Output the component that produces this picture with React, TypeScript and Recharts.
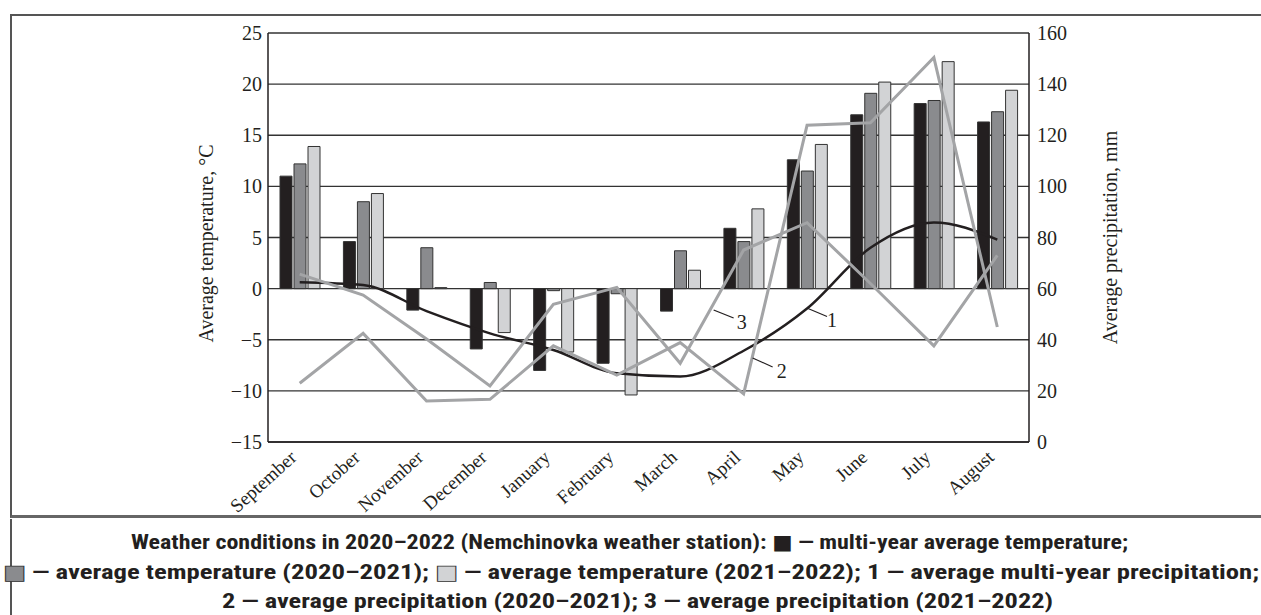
import {
  ComposedChart,
  Bar,
  Line,
  XAxis,
  YAxis,
  CartesianGrid,
  ReferenceDot,
  Label,
} from "recharts";

const MONTHS = [
  "September", "October", "November", "December", "January", "February",
  "March", "April", "May", "June", "July", "August",
];

// temperature, °C
const TEMP_MULTI_YEAR = [11.0, 4.6, -2.1, -5.9, -8.0, -7.3, -2.2, 5.9, 12.6, 17.0, 18.1, 16.3];
const TEMP_2020_21 = [12.2, 8.5, 4.0, 0.6, -0.2, -0.5, 3.7, 4.6, 11.5, 19.1, 18.4, 17.3];
const TEMP_2021_22 = [13.9, 9.3, 0.1, -4.3, -6.2, -10.4, 1.8, 7.8, 14.1, 20.2, 22.2, 19.4];

// precipitation, mm
const PRECIP_MULTI_YEAR = [62.5, 61.4, 51.2, 42.5, 36.0, 26.9, 25.6, 35.7, 52.2, 76.0, 85.9, 79.2];
const PRECIP_2020_21 = [23.0, 42.5, 16.0, 16.7, 37.6, 26.2, 38.9, 18.8, 123.9, 124.9, 150.4, 45.0];
const PRECIP_2021_22 = [65.7, 57.5, 40.3, 21.9, 53.9, 60.5, 30.8, 75.1, 85.8, 62.0, 37.6, 73.0];

const TEMP_TICKS = [-15, -10, -5, 0, 5, 10, 15, 20, 25];
const PRECIP_TICKS = [0, 20, 40, 60, 80, 100, 120, 140, 160];

const data = MONTHS.map((m, i) => ({
  month: m,
  tMulti: TEMP_MULTI_YEAR[i],
  t2021: TEMP_2020_21[i],
  t2122: TEMP_2021_22[i],
  pMulti: PRECIP_MULTI_YEAR[i],
  p2021: PRECIP_2020_21[i],
  p2122: PRECIP_2021_22[i],
}));

const INK = "#231f20";
const SERIF = "'Liberation Serif', 'DejaVu Serif', serif";
const CAPTION_FONT = "'Roboto Condensed', 'Liberation Sans Narrow', 'DejaVu Sans Condensed', 'Roboto', sans-serif";

const fmtMinus = (v: number) => String(v).replace("-", "\u2212");

function MonthTick({ x, y, payload }: any) {
  return (
    <text
      transform={`translate(${x - 2},${y + 17}) rotate(-42)`}
      textAnchor="end"
      fontFamily={SERIF}
      fontSize={19}
      fill={INK}
    >
      {payload.value}
    </text>
  );
}

// number + short leader line, placed relative to a point on the series
function Callout({ cx, cy, sx, sy, ex, ey, tx, ty, text }: any) {
  if (cx == null || cy == null) return null;
  return (
    <g>
      <line x1={cx + sx} y1={cy + sy} x2={cx + ex} y2={cy + ey} stroke={INK} strokeWidth={1.2} />
      <text x={cx + tx} y={cy + ty} fontFamily={SERIF} fontSize={20} fill={INK}>
        {text}
      </text>
    </g>
  );
}

function AxisTitle({ viewBox, value, dx, dy }: any) {
  const cx = viewBox.x + dx;
  const cy = viewBox.y + viewBox.height / 2 + dy;
  return (
    <text
      x={cx}
      y={cy}
      transform={`rotate(-90, ${cx}, ${cy})`}
      textAnchor="middle"
      dominantBaseline="central"
      fontFamily={SERIF}
      fontSize={20}
      fill={INK}
    >
      {value}
    </text>
  );
}

export default function App() {
  return (
    <div
      style={{
        position: "absolute",
        left: 0,
        top: 0,
        width: 1261,
        height: 615,
        background: "#fff",
        overflow: "hidden",
      }}
    >
      {/* table frame */}
      <div
        style={{
          position: "absolute",
          left: 10,
          top: 14,
          width: 1300,
          height: 499,
          borderTop: "2px solid #555",
          borderLeft: "2px solid #555",
          borderBottom: "3px solid #666",
        }}
      />
      <div
        style={{
          position: "absolute",
          left: 10,
          top: 519,
          width: 1300,
          height: 120,
          borderLeft: "2px solid #555",
        }}
      />

      <div style={{ position: "absolute", left: 0, top: 0 }}>
        <ComposedChart
          width={1261}
          height={515}
          data={data}
          margin={{ top: 33, right: 142, bottom: 0, left: 190 }}
          barSize={12}
          barGap={2}
        >
          <CartesianGrid yAxisId="temp" vertical={false} stroke="#333" strokeWidth={1.4} />
          <XAxis
            dataKey="month"
            height={73}
            tickSize={0}
            tickMargin={0}
            interval={0}
            tick={<MonthTick />}
            axisLine={{ stroke: INK, strokeWidth: 1.5 }}
            tickLine={false}
          />
          <YAxis
            yAxisId="temp"
            width={78}
            domain={[-15, 25]}
            ticks={TEMP_TICKS}
            tickFormatter={fmtMinus}
            tickSize={0}
            tickMargin={6}
            tickLine={false}
            axisLine={{ stroke: INK, strokeWidth: 1.5 }}
            tick={{ fontFamily: SERIF, fontSize: 20, fill: INK }}
          >
            <Label
              content={(p: any) => <AxisTitle {...p} value="Average temperature, °C" dx={16} dy={6} />}
            />
          </YAxis>
          <YAxis
            yAxisId="precip"
            orientation="right"
            width={90}
            domain={[0, 160]}
            ticks={PRECIP_TICKS}
            tickSize={0}
            tickMargin={8}
            tickLine={false}
            axisLine={{ stroke: INK, strokeWidth: 1.5 }}
            tick={{ fontFamily: SERIF, fontSize: 20, fill: INK, textAnchor: "start" }}
          >
            <Label
              content={(p: any) => <AxisTitle {...p} value="Average precipitation, mm" dx={81} dy={0} />}
            />
          </YAxis>

          <Bar yAxisId="temp" dataKey="tMulti" fill="#231f20" stroke="#333" strokeWidth={1} isAnimationActive={false} />
          <Bar yAxisId="temp" dataKey="t2021" fill="#8a8b8e" stroke="#333" strokeWidth={1} isAnimationActive={false} />
          <Bar yAxisId="temp" dataKey="t2122" fill="#d2d3d5" stroke="#333" strokeWidth={1} isAnimationActive={false} />

          <Line
            yAxisId="precip"
            type="monotone"
            dataKey="pMulti"
            stroke="#231f20"
            strokeWidth={2.5}
            dot={false}
            isAnimationActive={false}
          />
          <Line
            yAxisId="precip"
            type="linear"
            dataKey="p2021"
            stroke="#a3a4a6"
            strokeWidth={3}
            dot={false}
            isAnimationActive={false}
          />
          <Line
            yAxisId="precip"
            type="linear"
            dataKey="p2122"
            stroke="#a3a4a6"
            strokeWidth={3}
            dot={false}
            isAnimationActive={false}
          />

          <ReferenceDot
            yAxisId="precip"
            x="May"
            y={PRECIP_MULTI_YEAR[8]}
            shape={(p: any) => <Callout {...p} sx={1} sy={0} ex={20} ey={8} tx={20} ty={18} text="1" />}
          />
          <ReferenceDot
            yAxisId="precip"
            x="April"
            y={PRECIP_2020_21[7]}
            shape={(p: any) => <Callout {...p} sx={9} sy={-36} ex={29} ey={-27} tx={33} ty={-16} text="2" />}
          />
          <ReferenceDot
            yAxisId="precip"
            x="April"
            y={PRECIP_2021_22[7]}
            shape={(p: any) => <Callout {...p} sx={-30} sy={60} ex={-10} ey={68} tx={-7} ty={79} text="3" />}
          />
        </ComposedChart>
      </div>

      <svg
        width={1261}
        height={98}
        style={{ position: "absolute", left: 0, top: 517 }}
        fontFamily={CAPTION_FONT}
        fontWeight={700}
        fontSize={20}
        fill={INK}
      >
        <text x={131} y={32} textLength={997} lengthAdjust="spacingAndGlyphs">
          Weather conditions in 2020–2022 (Nemchinovka weather station):{" "}
          <tspan fill="#231f20">■</tspan> — multi-year average temperature;
        </text>
        <text x={3} y={62} textLength={1256} lengthAdjust="spacingAndGlyphs">
          <tspan fill="#8a8b8e" stroke="#333" strokeWidth={0.8}>■</tspan> — average temperature (2020–2021);{" "}
          <tspan fill="#d2d3d5" stroke="#333" strokeWidth={0.8}>■</tspan> — average temperature (2021–2022); 1 — average
          multi-year precipitation;
        </text>
        <text x={222} y={91} textLength={831} lengthAdjust="spacingAndGlyphs">
          2 — average precipitation (2020–2021); 3 — average precipitation (2021–2022)
        </text>
      </svg>
    </div>
  );
}
